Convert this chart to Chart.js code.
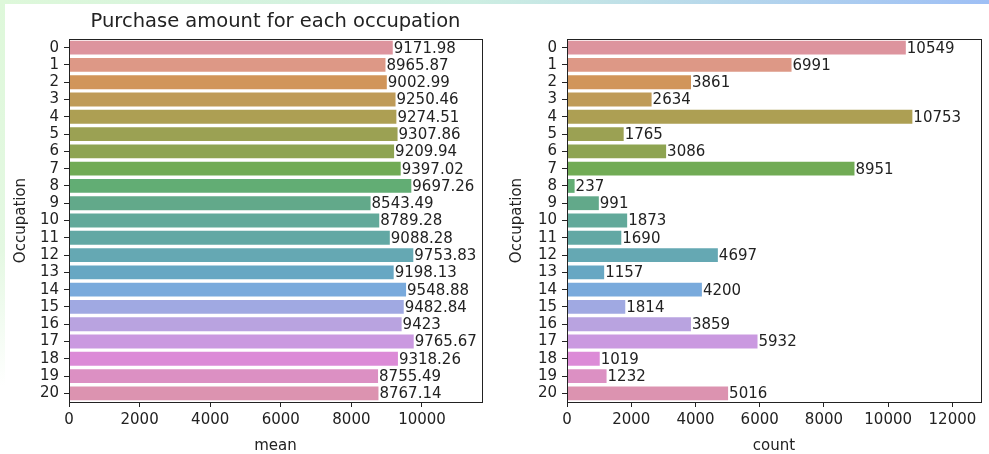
<!DOCTYPE html>
<html>
<head>
<meta charset="utf-8">
<script src="https://cdn.jsdelivr.net/npm/chart.js@4.4.0/dist/chart.umd.min.js"></script>
<style>
    html, body { margin: 0; padding: 0; }
    body { width: 989px; height: 454px; position: relative; overflow: hidden; background: #fff; }
    #topStrip { position: absolute; left: 0; top: 0; width: 989px; height: 4px;
        background: linear-gradient(to right, #def8da, #cdeee2 48%, #9ebff5); }
    #leftStrip { position: absolute; left: 0; top: 0; width: 5px; height: 454px;
        background: linear-gradient(to bottom, #def8da, #e4f8e2 55%, #fff 85%); }
    .wrap { position: absolute; top: 0; height: 454px; }
    #meanWrapper { left: 0; width: 495px; }
    #countWrapper { left: 496px; width: 493px; }
</style>
</head>
<body>
<div id="topStrip"></div>
<div id="leftStrip"></div>
<div class="wrap" id="meanWrapper"><canvas id="mean"></canvas></div>
<div class="wrap" id="countWrapper"><canvas id="count"></canvas></div>
<script>
// 職業代碼
const occupations = ['0','1','2','3','4','5','6','7','8','9','10','11','12','13','14','15','16','17','18','19','20'];
// 每個職業的平均消費
const meanPurchase = [9171.98, 8965.87, 9002.99, 9250.46, 9274.51, 9307.86, 9209.94, 9397.02, 9697.26, 8543.49,
    8789.28, 9088.28, 9753.83, 9198.13, 9548.88, 9482.84, 9423, 9765.67, 9318.26, 8755.49, 8767.14];
// 每個職業的筆數
const countPurchase = [10549, 6991, 3861, 2634, 10753, 1765, 3086, 8951, 237, 991,
    1873, 1690, 4697, 1157, 4200, 1814, 3859, 5932, 1019, 1232, 5016];
// X 軸刻度
const meanTicks = [0, 2000, 4000, 6000, 8000, 10000];
const countTicks = [0, 2000, 4000, 6000, 8000, 10000, 12000];

// seaborn husl 色盤 (讀自圖片)
const barColors = ['#dd949e','#dd9886','#d1955a','#bf9b58','#ad9f53','#9ba153','#8ea452','#71ab55','#62ad74','#62a98a',
    '#62a99a','#62a8a4','#65a8b3','#67a7c3','#79aadc','#a0a9e2','#b9a3e0','#ca99e0','#dc8bd7','#dc90c3','#dc93b0'];

const textColor = '#222';
const fontFamily = '"DejaVu Sans", sans-serif';

// 外框
const boxPlugin = {
    id: 'box',
    afterDatasetsDraw(chart) {
        const a = chart.chartArea;
        const ctx = chart.ctx;
        ctx.save();
        ctx.strokeStyle = '#222';
        ctx.lineWidth = 1;
        ctx.strokeRect(Math.round(a.left) + 0.5, Math.round(a.top) + 0.5,
            Math.round(a.right - a.left), Math.round(a.bottom - a.top));
        ctx.restore();
    }
};

// 柱子數值標籤
const valueLabelPlugin = {
    id: 'valueLabel',
    afterDatasetsDraw(chart) {
        const ctx = chart.ctx;
        const meta = chart.getDatasetMeta(0);
        const data = chart.data.datasets[0].data;
        ctx.save();
        ctx.fillStyle = textColor;
        ctx.font = '15px ' + fontFamily;
        ctx.textAlign = 'left';
        ctx.textBaseline = 'middle';
        meta.data.forEach((bar, i) => {
            ctx.fillText(String(data[i]), bar.x + 1, bar.y + 1);
        });
        ctx.restore();
    }
};

// 標題
const titlePlugin = {
    id: 'plotTitle',
    afterDraw(chart, args, opts) {
        if (!opts.text) return;
        const a = chart.chartArea;
        const ctx = chart.ctx;
        ctx.save();
        ctx.fillStyle = textColor;
        ctx.font = '19.5px ' + fontFamily;
        ctx.textAlign = 'center';
        ctx.textBaseline = 'alphabetic';
        ctx.fillText(opts.text, (a.left + a.right) / 2, 27);
        ctx.restore();
    }
};

function makeChart(id, values, xTitle, xMax, xTicks, yWidth, padRight, title) {
    new Chart(document.getElementById(id), {
        type: 'bar',
        data: {
            labels: occupations,
            datasets: [{
                data: values,
                backgroundColor: barColors,
                barPercentage: 0.8,
                categoryPercentage: 1.0,
                borderWidth: 0
            }]
        },
        options: {
            indexAxis: 'y',
            responsive: true,
            maintainAspectRatio: false,
            animation: false,
            layout: {
                padding: { top: 39, right: padRight, left: 0, bottom: 0 }
            },
            plugins: {
                legend: { display: false },
                tooltip: { enabled: false },
                plotTitle: { text: title }
            },
            scales: {
                x: {
                    type: 'linear',
                    min: 0,
                    max: xMax,
                    border: { display: false },
                    grid: {
                        drawOnChartArea: false,
                        tickLength: 5,
                        color: '#222'
                    },
                    ticks: {
                        autoSkip: false,
                        maxRotation: 0,
                        color: textColor,
                        padding: 4,
                        font: { family: fontFamily, size: 15 },
                        callback: v => String(v)
                    },
                    afterBuildTicks: s => { s.ticks = xTicks.map(v => ({ value: v })); },
                    title: {
                        display: true,
                        text: xTitle,
                        color: textColor,
                        font: { family: fontFamily, size: 15 },
                        padding: { top: 0, bottom: -1 }
                    },
                    afterFit: s => { s.height = 52; }
                },
                y: {
                    type: 'category',
                    border: { display: false },
                    grid: {
                        offset: false,
                        drawOnChartArea: false,
                        tickLength: 5,
                        color: '#222'
                    },
                    ticks: {
                        autoSkip: false,
                        color: textColor,
                        padding: 5,
                        font: { family: fontFamily, size: 15 }
                    },
                    title: {
                        display: true,
                        text: 'Occupation',
                        color: textColor,
                        font: { family: fontFamily, size: 15 },
                        padding: { top: 12, bottom: 0 }
                    },
                    afterFit: s => { s.width = yWidth; }
                }
            }
        },
        plugins: [boxPlugin, valueLabelPlugin, titlePlugin]
    });
}

makeChart('mean', meanPurchase, 'mean', 11700, meanTicks, 69, 13, 'Purchase amount for each occupation');
makeChart('count', countPurchase, 'count', 12890, countTicks, 71, 8, '');
</script>
</body>
</html>
